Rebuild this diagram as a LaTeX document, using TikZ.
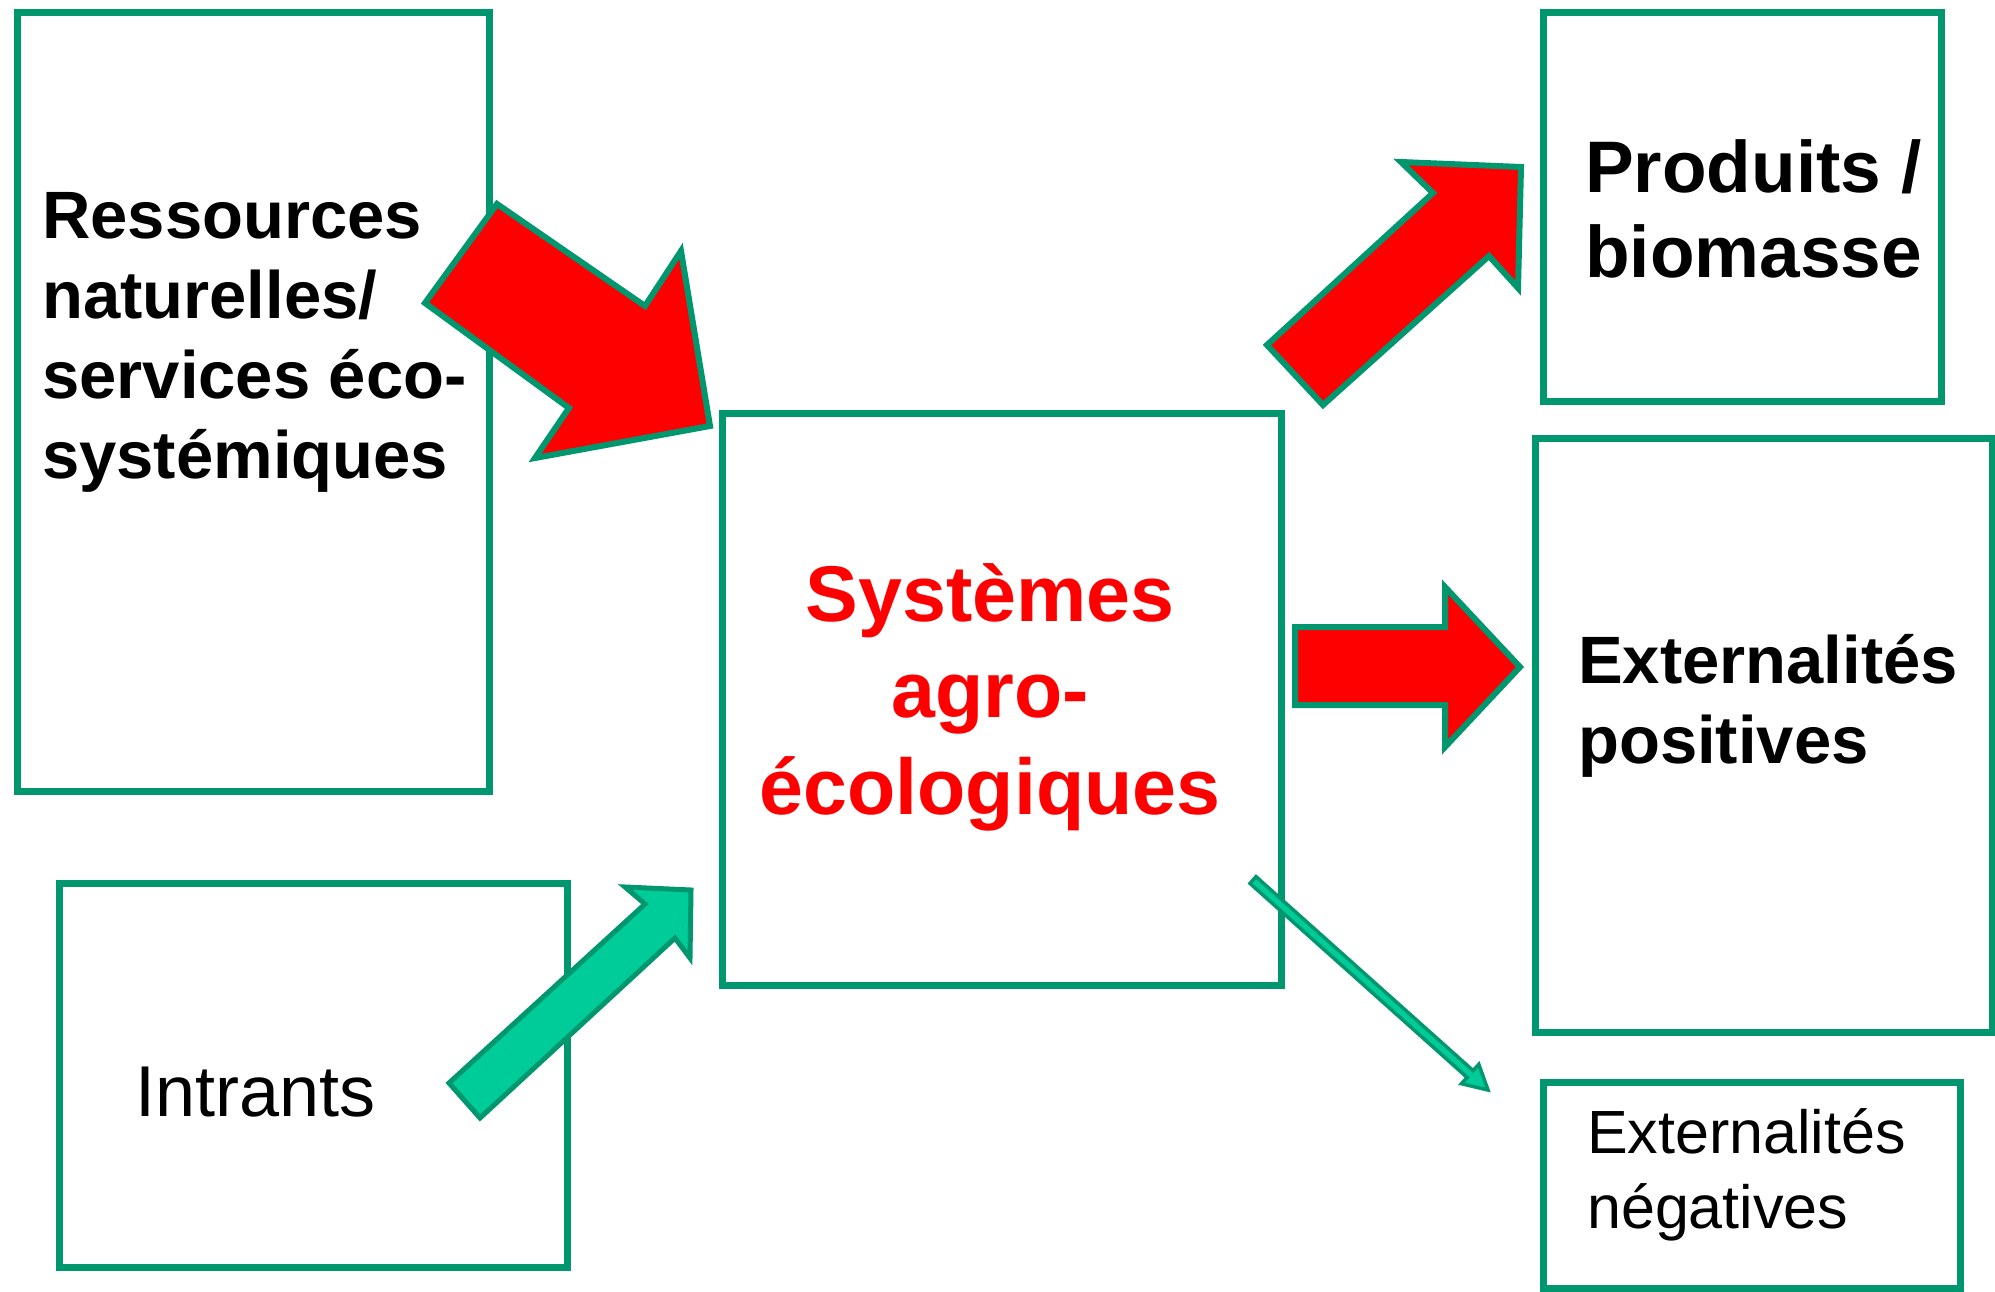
\documentclass[tikz,border=0pt]{standalone}
\usepackage{fontspec}
\setmainfont{Liberation Sans}
\definecolor{dgreen}{RGB}{0,150,110}
\definecolor{lgreen}{RGB}{0,204,153}
\definecolor{bred}{RGB}{255,0,0}
\begin{document}
\begin{tikzpicture}[x=1pt,y=-1pt,
  box/.style={draw=dgreen,line width=7pt,rectangle,inner sep=0pt,fill=none},
  redarrow/.style={draw=dgreen,fill=bred,line width=6pt,line join=miter},
  greenarrow/.style={draw=dgreen,fill=lgreen,line width=5pt,line join=miter},
  thinarrow/.style={draw=dgreen,fill=lgreen,line width=3.5pt,line join=miter},
  lbl/.style={inner sep=0pt,anchor=base west},
]
\useasboundingbox (0,0) rectangle (1995,1291);
\fill[white] (0,0) rectangle (1995,1291);

% boxes
\node[box,minimum width=472pt,minimum height=779pt] (res) at (253,401.5) {};
\node[box,minimum width=508pt,minimum height=384pt] (intr) at (313,1075) {};
\node[box,minimum width=559pt,minimum height=572pt] (cen) at (1001.5,699) {};
\node[box,minimum width=398pt,minimum height=389pt] (prod) at (1742,206.5) {};
\node[box,minimum width=457pt,minimum height=594pt] (pos) at (1763.5,735) {};
\node[box,minimum width=417pt,minimum height=206pt] (neg) at (1751.5,1185) {};

% block arrows
\draw[redarrow] (497,204) -- (645,306) -- (681,251) -- (710,426) -- (535,458) -- (569,408) -- (425,303) -- cycle;
\draw[redarrow] (1267,345) -- (1433,193) -- (1401,162) -- (1521,167) -- (1518,288) -- (1489,256) -- (1323,405) -- cycle;
\draw[redarrow] (1295,627) -- (1445,627) -- (1445,587) -- (1520,667) -- (1445,747) -- (1445,705) -- (1295,705) -- cycle;
\draw[greenarrow] (449,1083) -- (645,904) -- (625,887) -- (691,890) -- (690,958) -- (675,938) -- (480,1118) -- cycle;
\draw[thinarrow] (1250.0,883.4) -- (1256.0,876.6) -- (1473.1,1070.6) -- (1478.8,1064.3) -- (1488,1090) -- (1461.4,1083.7) -- (1467.1,1077.4) -- cycle;

% texts
\node[lbl,font=\fontsize{67}{80}\selectfont\bfseries] (tres) at (42,238)
  {\begin{tabular}[t]{@{}l@{}}Ressources\\naturelles/\\services éco-\\systémiques\end{tabular}};
\node[lbl,font=\fontsize{73}{85}\selectfont\bfseries] (tprod) at (1585,192)
  {\begin{tabular}[t]{@{}l@{}}Produits /\\biomasse\end{tabular}};
\node[lbl,font=\fontsize{67}{80}\selectfont\bfseries] (tpos) at (1578,683)
  {\begin{tabular}[t]{@{}l@{}}Externalités\\positives\end{tabular}};
\node[inner sep=0pt,anchor=base,font=\fontsize{79}{96.5}\selectfont\bfseries,text=bred] (tcen) at (990,621)
  {\begin{tabular}[t]{@{}c@{}}Systèmes\\agro-\\écologiques\end{tabular}};
\node[lbl,font=\fontsize{72}{86}\selectfont] (tintr) at (135,1116) {Intrants};
\node[lbl,font=\fontsize{61}{75}\selectfont] (tneg) at (1587,1153)
  {\begin{tabular}[t]{@{}l@{}}Externalités\\négatives\end{tabular}};
\end{tikzpicture}
\end{document}
